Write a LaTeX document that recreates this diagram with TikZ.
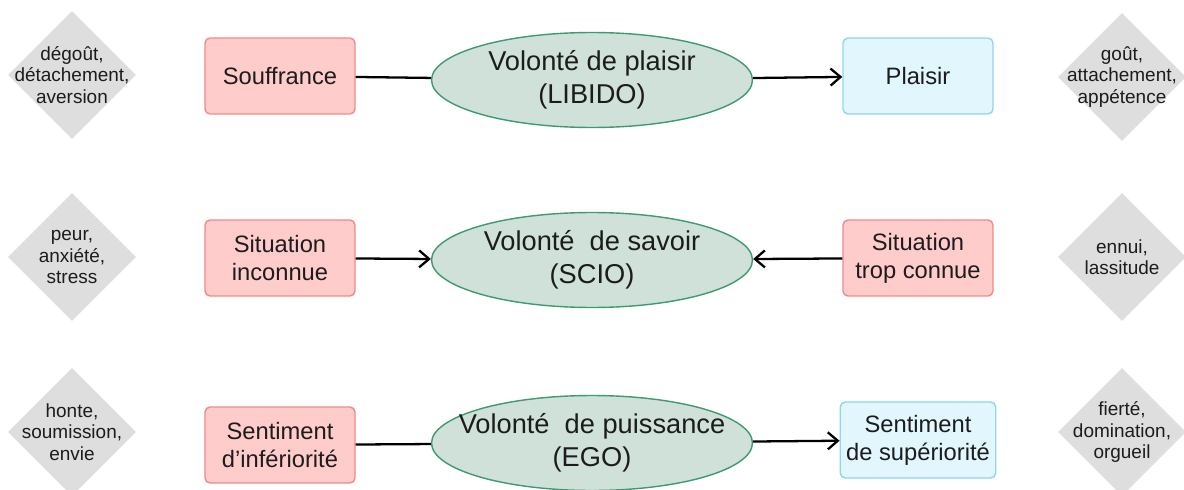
\documentclass[tikz,border=0pt]{standalone}
\usepackage{fontspec}
\setmainfont{Liberation Sans}
\usetikzlibrary{shapes.geometric,arrows.meta}
\definecolor{malfill}{HTML}{FFCCCC}
\definecolor{maldraw}{HTML}{EE8A88}
\definecolor{bienfill}{HTML}{E1F6FD}
\definecolor{biendraw}{HTML}{8ED6F3}
\definecolor{volontefill}{HTML}{D0E1DA}
\definecolor{volontedraw}{HTML}{3E9A70}
\definecolor{affectfill}{HTML}{DEDEDE}
\definecolor{txt}{HTML}{1C1C1C}

\begin{document}
\begin{tikzpicture}[x=0.02cm,y=-0.02cm,
	mal/.style={rectangle,rounded corners=0.1cm,draw=maldraw,fill=malfill,line width=0.8pt,minimum width=3cm,minimum height=1.52cm,align=center,text=txt,font=\fontsize{13.5}{16}\selectfont},
	bien/.style={mal,draw=biendraw,fill=bienfill},
	volonte/.style={ellipse,draw=volontedraw,fill=volontefill,line width=0.8pt,minimum width=6.42cm,minimum height=1.9cm,inner sep=-0.4cm,align=center,text=txt,font=\fontsize{15.5}{18.7}\selectfont},
	affect/.style={diamond,fill=affectfill,minimum size=2.56cm,inner sep=-0.3cm,align=center,text=txt,font=\fontsize{10.8}{12.2}\selectfont},
	lien/.style={line width=1.3pt},
	fleche/.style={lien,-{Straight Barb[length=0.2cm,width=0.34cm]}}]
	\useasboundingbox (0,0) rectangle (1184,490);
	\node[affect] (degout) at (72,75) {dégoût,\\détachement,\\aversion};
	\node[mal] (souffrance) at (280,76) {Souffrance};
	\node[volonte] (libido) at (592,80) {Volonté de plaisir\\(LIBIDO)};
	\node[bien] (plaisir) at (918,76) {Plaisir};
	\node[affect] (gout) at (1122,77) {goût,\\attachement,\\appétence};
	\node[affect] (peur) at (72,257) {peur,\\anxiété,\\stress};
	\node[mal] (inconnue) at (280,258) {Situation\\inconnue};
	\node[volonte] (scio) at (592,260) {Volonté\ \ de savoir\\(SCIO)};
	\node[mal] (connue) at (918,258) {Situation\\trop connue};
	\node[affect] (ennui) at (1122,257) {ennui,\\lassitude};
	\node[affect] (honte) at (72,432) {honte,\\soumission,\\envie};
	\node[mal] (inferiorite) at (280,445) {Sentiment\\d’infériorité};
	\node[volonte] (ego) at (592,443) {Volonté\ \ de puissance\\(EGO)};
	\node[bien] (superiorite) at (918,440) {Sentiment\\de supériorité};
	\node[affect] (fierte) at (1122,432) {fierté,\\domination,\\orgueil};
	\draw[lien] (souffrance) -- (libido);
	\draw[fleche] (libido) -- (plaisir);
	\draw[fleche] (inconnue) -- (scio);
	\draw[fleche] (connue) -- (scio);
	\draw[lien] (inferiorite) -- (ego);
	\draw[fleche] (ego) -- (superiorite);
\end{tikzpicture}
\end{document}
